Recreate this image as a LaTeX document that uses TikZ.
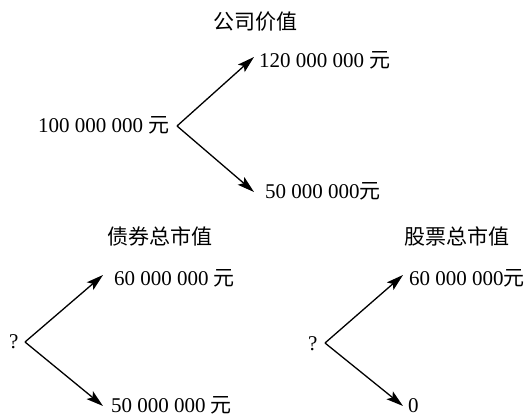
\documentclass[tikz,border=0pt]{standalone}
\usepackage{fontspec}
\setmainfont{Liberation Serif}
\newfontfamily\cjk{Noto Sans CJK SC}
\usetikzlibrary{arrows.meta}
\begin{document}
\begin{tikzpicture}[x=1pt,y=-1pt,
  arr/.style={line width=1.3pt,-{Stealth[length=17pt,width=10pt,inset=3.5pt]}},
  lbl/.style={inner sep=0pt,font=\fontsize{21}{24}\selectfont},
  ttl/.style={inner sep=0pt,font=\fontsize{21}{24}\selectfont\cjk}]
\useasboundingbox (0,0) rectangle (530,417);
% top tree
\node[ttl] (t1) at (255,22) {公司价值};
\node[lbl,anchor=base west] (a0) at (38,133) {100 000 000 {\cjk 元}};
\coordinate (v1) at (177,126);
\coordinate (e1) at (254,57);
\coordinate (e2) at (254,192);
\node[lbl,anchor=base west] (a1) at (259,68) {120 000 000 {\cjk 元}};
\node[lbl,anchor=base west] (a2) at (265,198) {50 000 000{\cjk 元}};
\draw[arr] (v1) -- (e1);
\draw[arr] (v1) -- (e2);
% bottom left tree
\node[ttl] (t2) at (160,236) {债券总市值};
\node[lbl,anchor=base west] (q1) at (9,348) {?};
\coordinate (v2) at (25,342);
\coordinate (e3) at (103,275);
\coordinate (e4) at (103,406);
\node[lbl,anchor=base west] (b1) at (114,285) {60 000 000 {\cjk 元}};
\node[lbl,anchor=base west] (b2) at (111,412) {50 000 000 {\cjk 元}};
\draw[arr] (v2) -- (e3);
\draw[arr] (v2) -- (e4);
% bottom right tree
\node[ttl] (t3) at (457,236) {股票总市值};
\node[lbl,anchor=base west] (q2) at (308,350) {?};
\coordinate (v3) at (325,343);
\coordinate (e5) at (403,275);
\coordinate (e6) at (403,406);
\node[lbl,anchor=base west] (c1) at (409,285) {60 000 000{\cjk 元}};
\node[lbl,anchor=base west] (c2) at (408,412) {0};
\draw[arr] (v3) -- (e5);
\draw[arr] (v3) -- (e6);
\end{tikzpicture}
\end{document}
